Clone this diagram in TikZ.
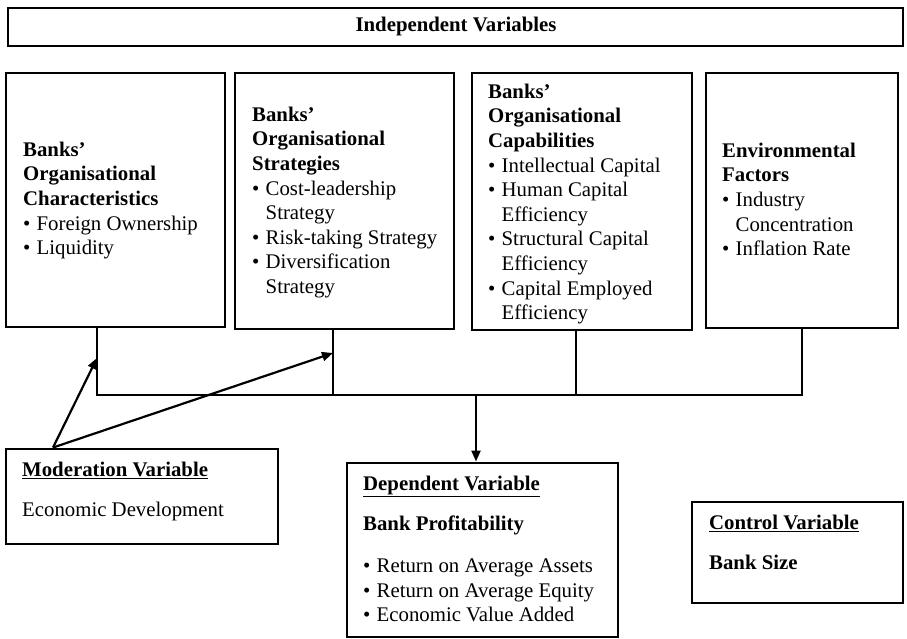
\documentclass[tikz,border=0pt]{standalone}
\usepackage{fontspec}
\setmainfont{Liberation Serif}
\usetikzlibrary{arrows.meta}

% bullet item with hanging indent
\newcommand{\itm}{\makebox[13.5pt][l]{\textbullet}}
\newcommand{\cnt}{\hspace*{13.5pt}}
\newcommand{\topstrut}{\rule{0pt}{15pt}}

\tikzset{
  box/.style={draw, line width=2.9pt, inner sep=0pt, fill=none},
  txt/.style={anchor=north west, inner sep=0pt, align=left,
              font=\fontsize{20.8}{24.6}\selectfont},
  link/.style={line width=2.2pt},
  arr/.style={line width=2.2pt, -{Triangle[length=11pt,width=9pt]}}
}

\begin{document}
\begin{tikzpicture}[x=1pt,y=-1pt]
\useasboundingbox (0,0) rectangle (907,639);

% frames
\node[box, minimum width=895pt, minimum height=38pt] (top) at (455.5,27) {};
\node[box, minimum width=219pt, minimum height=254pt] (b1) at (115.5,200) {};
\node[box, minimum width=219pt, minimum height=256pt] (b2) at (344.5,201) {};
\node[box, minimum width=220pt, minimum height=257pt] (b3) at (582,201.5) {};
\node[box, minimum width=192pt, minimum height=255pt] (b4) at (802,200.5) {};
\node[box, minimum width=272pt, minimum height=95pt] (mod) at (142,496.5) {};
\node[box, minimum width=271pt, minimum height=174pt] (dep) at (482.5,550) {};
\node[box, minimum width=211pt, minimum height=101pt] (ctrl) at (797.5,552.5) {};

% texts
\node[font=\fontsize{20.8}{24.6}\selectfont\bfseries, inner sep=0pt, anchor=base] (ttop) at (456,32) {Independent Variables};

\node[txt] (t1) at (23,141) {\topstrut\textbf{Banks'}\\\textbf{Organisational}\\\textbf{Characteristics}\\
  \itm Foreign Ownership\\\itm Liquidity};

\node[txt] (t2) at (252,106) {\topstrut\textbf{Banks'}\\\textbf{Organisational}\\\textbf{Strategies}\\
  \itm Cost-leadership\\\cnt Strategy\\\itm Risk-taking Strategy\\\itm Diversification\\\cnt Strategy};

\node[txt] (t3) at (488,83) {\topstrut\textbf{Banks'}\\\textbf{Organisational}\\\textbf{Capabilities}\\
  \itm Intellectual Capital\\\itm Human Capital\\\cnt Efficiency\\\itm Structural Capital\\\cnt Efficiency\\
  \itm Capital Employed\\\cnt Efficiency};

\node[txt] (t4) at (722,142) {\topstrut\textbf{Environmental}\\\textbf{Factors}\\
  \itm Industry\\\cnt Concentration\\\itm Inflation Rate};

\node[txt] (tm) at (22,461) {\topstrut\textbf{\underline{Moderation Variable}}\\[16pt]Economic Development};

\node[txt] (td) at (363,475) {\topstrut\textbf{\underline{Dependent Variable}}\\[16pt]\textbf{Bank Profitability}\\[17pt]
  \itm Return on Average Assets\\\itm Return on Average Equity\\\itm Economic Value Added};

\node[txt] (tc) at (709,514) {\topstrut\textbf{\underline{Control Variable}}\\[16pt]\textbf{Bank Size}};

% connector bus
\coordinate (j1) at (97,395);
\coordinate (j2) at (333,395);
\coordinate (j3) at (576,395);
\coordinate (j4) at (802,395);
\coordinate (jd) at (476,395);
\draw[link] (b1.south -| j1) -- (j1) -- (j4) -- (b4.south);
\draw[link] (b2.south -| j2) -- (j2);
\draw[link] (b3.south -| j3) -- (j3);
\draw[arr] (jd) -- (dep.north -| jd);

% moderation links
\coordinate (m0) at (53,0);
\coordinate (h1) at (97,358);
\coordinate (h2) at (333,353);
\draw[arr] (mod.north -| m0) -- (h1);
\draw[arr] (mod.north -| m0) -- (h2);
\end{tikzpicture}
\end{document}
